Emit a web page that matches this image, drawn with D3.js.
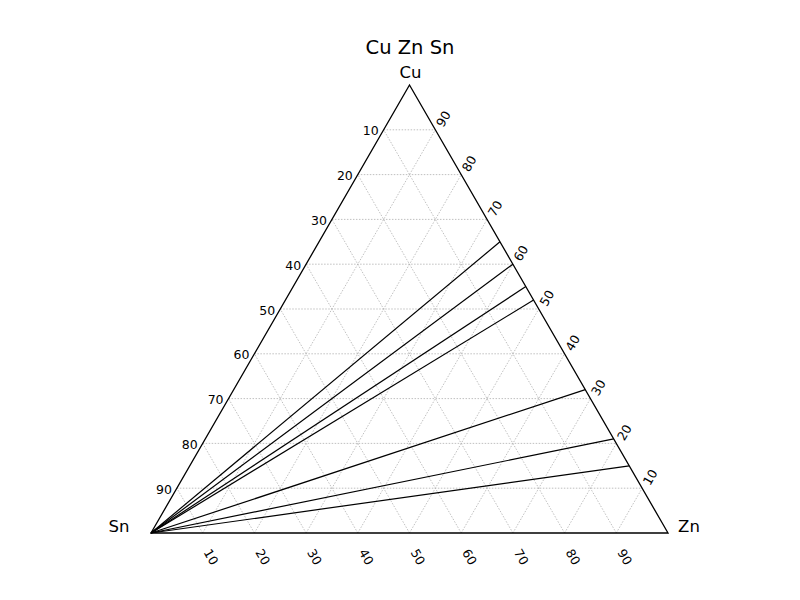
<!DOCTYPE html>
<html><head><meta charset="utf-8">
<script src="https://cdn.jsdelivr.net/npm/d3@7"></script>
<style>body{margin:0;background:#fff}svg{font-family:"DejaVu Sans",sans-serif}</style>
</head><body>
<svg id="c" width="800" height="600"></svg>
<script>
const title = "Cu Zn Sn";
const vertexLabels = ["Cu", "Zn", "Sn"];
// Cu fraction at which each line from the Sn corner meets the Cu–Zn edge
const lineEndCu = [0.65, 0.60, 0.55, 0.52, 0.32, 0.21, 0.15];
const tickValues = [10, 20, 30, 40, 50, 60, 70, 80, 90];

const svg = d3.select("#c");
const xs = d3.scaleLinear().domain([0, 1]).range([151, 668]);
const ys = d3.scaleLinear().domain([0, 1]).range([533, 85]);
// p = [cu, zn, sn]
const P = p => [xs(p[1] + p[0] / 2), ys(p[0])];

// gridlines
const grid = [];
tickValues.forEach(t => {
  const f = t / 100;
  grid.push([[f, 0, 1 - f], [f, 1 - f, 0]]);
  grid.push([[0, f, 1 - f], [1 - f, f, 0]]);
  grid.push([[0, 1 - f, f], [1 - f, 0, f]]);
});
svg.append("g").selectAll("line").data(grid).join("line")
  .attr("x1", d => P(d[0])[0]).attr("y1", d => P(d[0])[1])
  .attr("x2", d => P(d[1])[0]).attr("y2", d => P(d[1])[1])
  .attr("stroke", "#b0b0b0").attr("stroke-width", 0.8).attr("stroke-dasharray", "1.5,1.5");

// data lines
svg.append("g").selectAll("line").data(lineEndCu).join("line")
  .attr("x1", P([0, 0, 1])[0]).attr("y1", P([0, 0, 1])[1])
  .attr("x2", d => P([d, 1 - d, 0])[0]).attr("y2", d => P([d, 1 - d, 0])[1])
  .attr("stroke", "#000").attr("stroke-width", 1.2);

// triangle border
const corners = [[1, 0, 0], [0, 1, 0], [0, 0, 1]].map(P);
svg.append("path").attr("d", d3.line()(corners) + "Z")
  .attr("fill", "none").attr("stroke", "#000").attr("stroke-width", 1.3);

// tick labels
const fs = 12.5;
// right edge: Cu
svg.append("g").selectAll("text").data(tickValues).join("text")
  .attr("transform", d => { const p = P([d / 100, 1 - d / 100, 0]); return `translate(${p[0] + 8},${p[1] - 11}) rotate(-60)`; })
  .attr("text-anchor", "middle").attr("dominant-baseline", "central")
  .attr("font-size", fs).text(d => d);
// left edge: Sn
svg.append("g").selectAll("text").data(tickValues).join("text")
  .attr("x", d => P([1 - d / 100, 0, d / 100])[0] - 5)
  .attr("y", d => P([1 - d / 100, 0, d / 100])[1] + 1)
  .attr("text-anchor", "end").attr("dominant-baseline", "central")
  .attr("font-size", fs).text(d => d);
// bottom edge: Zn
svg.append("g").selectAll("text").data(tickValues).join("text")
  .attr("transform", d => { const p = P([0, d / 100, 1 - d / 100]); return `translate(${p[0] + 8.5},${p[1] + 24}) rotate(60)`; })
  .attr("text-anchor", "middle").attr("dominant-baseline", "central")
  .attr("font-size", fs).text(d => d);

// vertex labels
svg.append("text").attr("x", P([1, 0, 0])[0] + 1).attr("y", P([1, 0, 0])[1] - 13)
  .attr("text-anchor", "middle").attr("dominant-baseline", "central").attr("font-size", 16.5).text(vertexLabels[0]);
svg.append("text").attr("x", P([0, 1, 0])[0] + 21).attr("y", P([0, 1, 0])[1] - 7)
  .attr("text-anchor", "middle").attr("dominant-baseline", "central").attr("font-size", 16.5).text(vertexLabels[1]);
svg.append("text").attr("x", P([0, 0, 1])[0] - 32).attr("y", P([0, 0, 1])[1] - 7)
  .attr("text-anchor", "middle").attr("dominant-baseline", "central").attr("font-size", 16.5).text(vertexLabels[2]);

svg.append("text").attr("x", 410).attr("y", 47).attr("text-anchor", "middle")
  .attr("dominant-baseline", "central").attr("font-size", 19.5).text(title);
</script>
</body></html>
